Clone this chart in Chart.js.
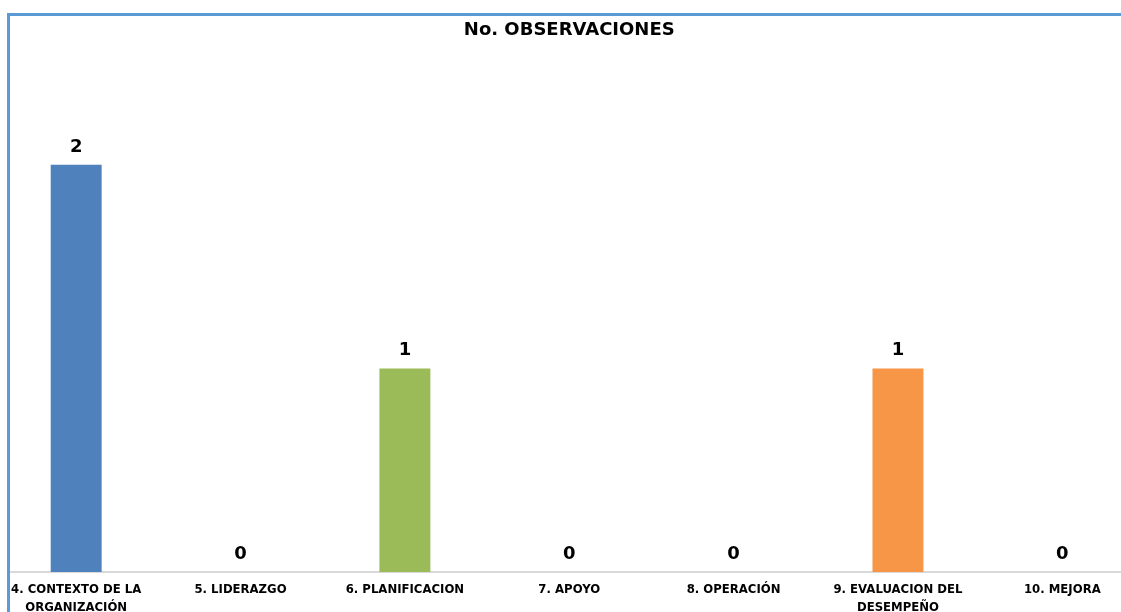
<!DOCTYPE html>
<html>
<head>
<meta charset="utf-8">
<script src="https://cdn.jsdelivr.net/npm/chart.js@4/dist/chart.umd.min.js"></script>
<style>
  html, body { margin: 0; padding: 0; width: 1121px; height: 612px; overflow: hidden; background: #fff; }
  #wrap { position: absolute; left: -30px; top: 0; width: 1200px; height: 640px; }
  .cover { position: absolute; background: #fff; }
  .edge { position: absolute; background: #5b9bd5; }
</style>
</head>
<body>
<div id="wrap"><canvas id="c" width="1200" height="640"></canvas></div>
<div class="cover" style="left:0;top:0;width:7px;height:612px;"></div>
<div class="cover" style="left:0;top:0;width:1121px;height:13px;"></div>
<div class="edge" style="left:7px;top:13px;width:3px;height:600px;"></div>
<div class="edge" style="left:7px;top:13px;width:1114px;height:3px;"></div>
<script>
const categories = [
  ["4. CONTEXTO DE LA", "ORGANIZACIÓN"],
  "5. LIDERAZGO",
  "6. PLANIFICACION",
  "7. APOYO",
  "8. OPERACIÓN",
  ["9. EVALUACION DEL", "DESEMPEÑO"],
  "10. MEJORA"
];
const observaciones = [2, 0, 1, 0, 0, 1, 0];
const chartTitle = "No. OBSERVACIONES";
const palette = ["#4F81BD", "#C0504D", "#9BBB59", "#8064A2", "#4BACC6", "#F79646", "#2C4D75"];

const valueLabels = {
  id: "valueLabels",
  afterDatasetsDraw(chart) {
    const ctx = chart.ctx;
    const meta = chart.getDatasetMeta(0);
    ctx.save();
    ctx.font = "bold 18px 'DejaVu Sans'";
    ctx.fillStyle = "#000";
    ctx.textAlign = "center";
    ctx.textBaseline = "alphabetic";
    meta.data.forEach((el, i) => {
      ctx.fillText(String(observaciones[i]), el.x, el.y - 13);
    });
    ctx.restore();
  }
};

new Chart(document.getElementById("c"), {
  type: "bar",
  data: {
    labels: categories,
    datasets: [{
      data: observaciones,
      backgroundColor: palette,
      borderWidth: 0,
      categoryPercentage: 1,
      barPercentage: 0.31
    }]
  },
  options: {
    responsive: false,
    animation: false,
    layout: { padding: { left: 24, right: 25.5, top: 0, bottom: 14 } },
    plugins: {
      legend: { display: false },
      tooltip: { enabled: false },
      title: {
        display: true,
        text: chartTitle,
        color: "#000",
        font: { family: "'DejaVu Sans'", size: 18, weight: "bold", lineHeight: 1.2 },
        padding: { top: 19.5, bottom: 22 }
      }
    },
    scales: {
      x: {
        grid: { display: false, drawTicks: false },
        border: { display: true, color: "#d9d9d9", width: 2 },
        ticks: {
          color: "#000",
          padding: 9,
          autoSkip: false,
          maxRotation: 0,
          font: { family: "'DejaVu Sans'", size: 11.7, weight: "bold", lineHeight: 1.54 }
        }
      },
      y: {
        display: false,
        min: 0,
        max: 2.5
      }
    }
  },
  plugins: [valueLabels]
});
</script>
</body>
</html>
